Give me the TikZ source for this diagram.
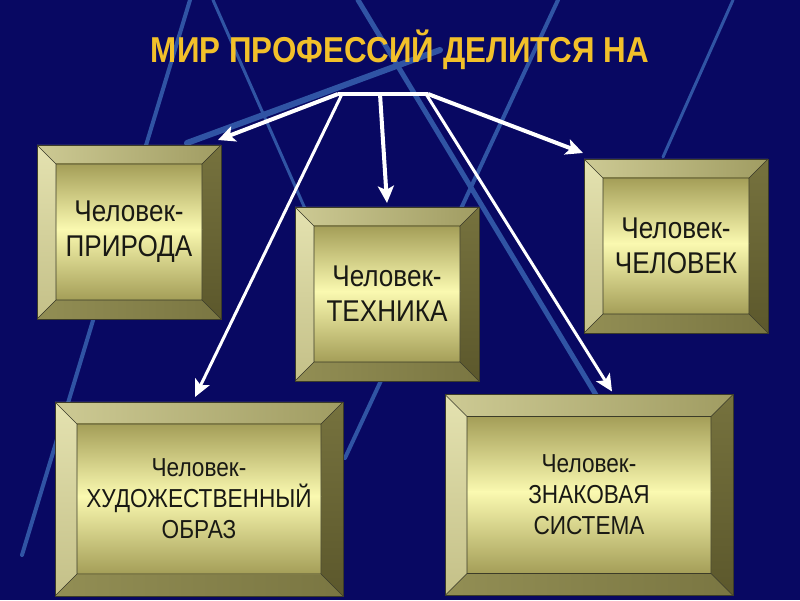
\documentclass[tikz,border=0pt]{standalone}
\usepackage{fontspec}
\usepackage{tikz}
\usetikzlibrary{calc,arrows.meta}
\newfontfamily\boxfont{Liberation Sans}[FakeStretch=0.87]

\definecolor{bgnavy}{RGB}{8,8,98}
\definecolor{bgline}{RGB}{48,84,164}
\definecolor{titlegold}{RGB}{242,192,42}
\definecolor{edgegray}{RGB}{60,60,40}
\definecolor{textgray}{RGB}{25,25,20}
\definecolor{bevtopL}{RGB}{205,202,148}
\definecolor{bevtopR}{RGB}{160,156,98}
\definecolor{bevleftT}{RGB}{228,226,176}
\definecolor{bevleftB}{RGB}{196,192,136}
\definecolor{bevrightT}{RGB}{118,114,62}
\definecolor{bevrightB}{RGB}{92,88,44}
\definecolor{bevbotL}{RGB}{146,142,84}
\definecolor{bevbotR}{RGB}{122,118,66}
\definecolor{faceedge}{RGB}{164,158,88}
\definecolor{facemid}{RGB}{250,249,176}

\tikzset{
  bevelsize/.store in=\bvw, bevelsize=19pt,
  bevelbox/.style={rectangle, draw=edgegray, line width=0.7pt, inner sep=0pt, outer sep=0pt,
    text=textgray, align=center, font=\boxfont\fontsize{30}{35}\selectfont,
    path picture={
      \path (path picture bounding box.north west) coordinate (bNW)
            (path picture bounding box.north east) coordinate (bNE)
            (path picture bounding box.south west) coordinate (bSW)
            (path picture bounding box.south east) coordinate (bSE);
      \path ($(bNW)+(\bvw,-\bvw)$) coordinate (iNW)
            ($(bNE)+(-\bvw,-\bvw)$) coordinate (iNE)
            ($(bSW)+(\bvw,\bvw)$) coordinate (iSW)
            ($(bSE)+(-\bvw,\bvw)$) coordinate (iSE)
            ($(iNW)!0.48!(iSW)$) coordinate (mW)
            ($(iNE)!0.48!(iSE)$) coordinate (mE);
      \shade[left color=bevtopL, right color=bevtopR] (bNW) -- (bNE) -- (iNE) -- (iNW) -- cycle;
      \shade[top color=bevleftT, bottom color=bevleftB] (bNW) -- (iNW) -- (iSW) -- (bSW) -- cycle;
      \shade[top color=bevrightT, bottom color=bevrightB] (bNE) -- (bSE) -- (iSE) -- (iNE) -- cycle;
      \shade[left color=bevbotL, right color=bevbotR] (bSW) -- (iSW) -- (iSE) -- (bSE) -- cycle;
      \shade[top color=faceedge, bottom color=facemid] (iNW) rectangle (mE);
      \shade[top color=facemid, bottom color=faceedge] (mW) rectangle (iSE);
      \draw[edgegray, line width=0.6pt] (iNW) rectangle (iSE)
        (bNW) -- (iNW) (bNE) -- (iNE) (bSW) -- (iSW) (bSE) -- (iSE);
    }},
  bigbox/.style={bevelbox, bevelsize=22pt, font=\boxfont\fontsize{26}{31}\selectfont},
  bgstroke/.style={draw=bgline, line cap=round},
  whitearrow/.style={draw=white, line width=4pt, -{Stealth[length=17pt,width=16pt,inset=4pt]}}
}

\begin{document}
\begin{tikzpicture}[x=1pt,y=1pt]
\useasboundingbox (0,0) rectangle (800,600);
\fill[bgnavy] (0,0) rectangle (800,600);

% background strokes
\draw[bgstroke, line width=4pt] (190,600) -- (22,45);
\draw[bgstroke, line width=3pt] (213,600) -- (310,380);
\draw[bgstroke, line width=5pt] (358,600) -- (596,205);
\draw[bgstroke, line width=6pt] (187,457) -- (440,550);
\draw[bgstroke, line width=4pt] (558,600) -- (345,142);
\draw[bgstroke, line width=3pt] (733,600) -- (663,443);

% boxes
\node[bevelbox, minimum width=184, minimum height=174] (prir) at (129,368) {Человек-\\ПРИРОДА};
\node[bevelbox, minimum width=184, minimum height=174] (tech) at (387,306) {Человек-\\ТЕХНИКА};
\node[bevelbox, minimum width=184, minimum height=174] (chel) at (676,354) {Человек-\\ЧЕЛОВЕК};
\node[bigbox, minimum width=288, minimum height=194] (hud) at (199,101) {Человек-\\ХУДОЖЕСТВЕННЫЙ\\ОБРАЗ};
\node[bigbox, minimum width=288, minimum height=201] (znak) at (589,105) {Человек-\\ЗНАКОВАЯ\\СИСТЕМА};

% title
\node[font=\boxfont\bfseries\fontsize{36}{40}\selectfont, text=titlegold, anchor=base] (title) at (400,537) {МИР ПРОФЕССИЙ ДЕЛИТСЯ НА};

% connectors
\coordinate (hubL) at (338,506);
\coordinate (hubM) at (380,506);
\coordinate (hubR) at (428,506);
\draw[white, line width=3.5pt] (hubL) -- (hubR);
\draw[whitearrow] (hubL) -- ([shift={(-3,5)}]prir.north east);
\draw[whitearrow] (hubM) -- ([yshift=4]tech.north);
\draw[whitearrow] (hubR) -- ([shift={(-1,6)}]chel.north west);
\draw[whitearrow, line width=3pt] ([xshift=4]hubL) -- ([shift={(-4,5)}]hud.north);
\draw[whitearrow, line width=3pt] ([xshift=-2]hubR) -- ([shift={(23,3)}]znak.north);
\end{tikzpicture}
\end{document}
